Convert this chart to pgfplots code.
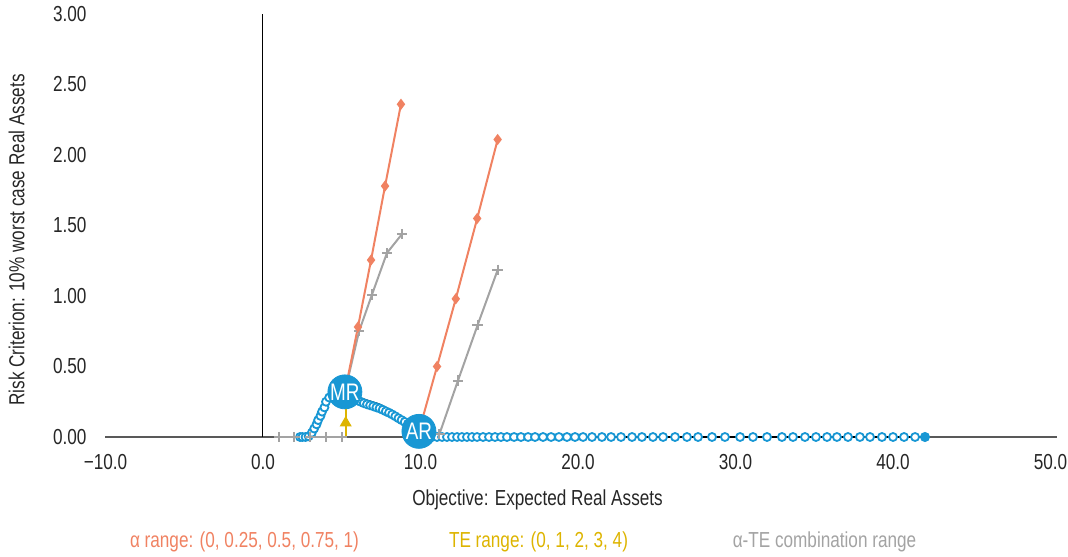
\documentclass[border=0pt]{standalone}
\usepackage{fontspec}
\setmainfont{Liberation Sans}[FakeStretch=0.79]
\usepackage{pgfplots}
\pgfplotsset{compat=1.18}

\definecolor{csalmon}{HTML}{F08262}
\definecolor{cgold}{HTML}{DDB400}
\definecolor{cgray}{HTML}{A3A3A3}
\definecolor{cblue}{HTML}{1897D4}
\definecolor{caxis}{HTML}{595959}

\newcommand{\lbl}{\fontsize{10.9}{12}\selectfont}

\begin{document}
\begin{tikzpicture}
\begin{axis}[
  name=ax, at={(0,0)}, anchor=south west,
  scale only axis, width=472.5bp, height=211.5bp,
  xmin=-10, xmax=50, ymin=0, ymax=3,
  axis line style={draw=none},
  major tick length=0pt,
  xtick={-10,0,10,20,30,40,50},
  xticklabels={−10.0,0.0,10.0,20.0,30.0,40.0,50.0},
  ytick={0,0.5,1,1.5,2,2.5,3},
  yticklabels={0.00,0.50,1.00,1.50,2.00,2.50,3.00},
  tick label style={font=\lbl, text=black!85},
  xticklabel style={yshift=-5bp},
  yticklabel style={xshift=-6bp},
  clip=false,
]
% axis lines: x along y=0, y at x=0
\draw[caxis, line width=0.8bp] (axis cs:-10,0) -- (axis cs:50.4,0);
\draw[black, line width=0.5bp] (axis cs:0,0) -- (axis cs:0,3);

% efficient frontier (smooth curve + flat tail)
\addplot[black, line width=1bp, smooth, tension=0.5] coordinates {
  (3.0,0) (3.2,0.06) (3.4,0.12) (3.7,0.2) (4.0,0.27) (4.4,0.31) (4.9,0.335)
  (5.3,0.34) (6.2,0.275) (7.4,0.23) (8.2,0.18) (8.9,0.135) (9.5,0.08)
  (10.0,0.03) (10.5,0)
};
\addplot[black, line width=1bp] coordinates {(10.5,0) (42.0,0)};

% frontier portfolios
\addplot[only marks, mark=*, mark size=2bp,
  mark options={draw=cblue, fill=white, line width=0.9bp}] coordinates {
  (2.35,0) (2.5,0) (2.7,0) (2.9,0.005) (3.1,0.03) (3.25,0.06) (3.4,0.09)
  (3.5,0.12) (3.65,0.15) (3.75,0.18) (3.9,0.21) (4.0,0.25) (4.2,0.28)
  (4.4,0.3) (4.6,0.31) (4.8,0.32)
  (5.6,0.29) (5.8,0.275) (6.0,0.26) (6.2,0.25) (6.4,0.24) (6.6,0.232)
  (6.8,0.225) (7.0,0.218) (7.2,0.21) (7.4,0.203) (7.6,0.193) (7.8,0.182)
  (8.0,0.172) (8.2,0.16) (8.4,0.147) (8.6,0.133) (8.8,0.12) (9.0,0.107)
  (9.2,0.093) (9.4,0.078) (9.6,0.062) (9.8,0.045) (10.0,0.03) (10.2,0.015)
  (10.4,0.004)
  (10.73,0) (11.05,0) (11.37,0) (11.68,0) (12.00,0) (12.32,0) (12.63,0)
  (12.95,0) (13.27,0) (13.59,0) (13.97,0) (14.35,0) (14.73,0) (15.11,0)
  (15.49,0) (15.94,0) (16.38,0) (16.83,0) (17.27,0) (17.78,0) (18.29,0)
  (18.79,0) (19.30,0) (19.81,0) (20.32,0) (20.89,0) (21.52,0) (22.10,0)
  (22.73,0) (23.43,0) (24.06,0) (24.76,0) (25.40,0) (26.16,0) (26.92,0)
  (27.62,0) (28.51,0) (29.33,0) (30.29,0) (31.11,0) (32.00,0) (32.95,0)
  (33.65,0) (34.41,0) (35.11,0) (35.81,0) (36.44,0) (37.14,0) (37.90,0)
  (38.54,0) (39.30,0) (40.00,0) (40.70,0) (41.40,0)
};
\addplot[only marks, mark=*, mark size=2.3bp, color=cblue] coordinates {(42.03,0)};

% alpha-TE combination range
\addplot[cgray, line width=1bp, mark=+, mark size=2.6bp] coordinates {
  (1,0) (2,0) (3,0) (4,0) (5,0)
};
\addplot[cgray, line width=1bp, mark=+, mark size=2.6bp, mark indices={2,3,4,5}] coordinates {
  (5.2,0.32) (6.1,0.75) (6.92,1.01) (7.87,1.305) (8.83,1.44)
};
\addplot[cgray, line width=1bp, mark=+, mark size=2.6bp] coordinates {
  (11.2,0.02) (12.38,0.4) (13.63,0.795) (14.9,1.185)
};

% alpha range
\addplot[csalmon, line width=1bp, mark=diamond*, mark size=2bp, mark indices={2,3,4,5}] coordinates {
  (5.2,0.32) (6.03,0.78) (6.86,1.255) (7.75,1.78) (8.76,2.36)
};
\addplot[csalmon, line width=1bp, mark=diamond*, mark size=2bp, mark indices={2,3,4,5}] coordinates {
  (9.9,0.04) (11.05,0.5) (12.24,0.98) (13.6,1.55) (14.9,2.11)
};

% TE range
\addplot[cgold, line width=1bp, mark=triangle*, mark size=2.5bp, mark indices={2}] coordinates {
  (5.25,0) (5.25,0.1) (5.25,0.2) (5.25,0.27) (5.25,0.32)
};

% MR and AR portfolios
\addplot[only marks, mark=*, mark size=8.5bp, color=cblue,
  point meta=explicit symbolic, nodes near coords,
  every node near coord/.append style={anchor=center, text=white,
    font=\fontsize{12}{13}\selectfont}]
  table[meta=lab] {
x y lab
5.2 0.32 MR
9.9 0.04 AR
};
\end{axis}

\node[font=\lbl, text=black!85] at (216bp,-31.5bp) {Objective: Expected Real Assets};
\node[font=\lbl, text=black!85, rotate=90] at (-44.5bp,98.5bp) {Risk Criterion: 10\% worst case Real Assets};
\node[font=\lbl, text=csalmon] at (69.5bp,-52.5bp) {α range: (0, 0.25, 0.5, 0.75, 1)};
\node[font=\lbl, text=cgold] at (216.5bp,-52.5bp) {TE range: (0, 1, 2, 3, 4)};
\node[font=\lbl, text=cgray] at (359.5bp,-52.5bp) {α-TE combination range};

\pgfresetboundingbox
\path[use as bounding box] (-52.75bp,-60bp) rectangle (481.25bp,218.5bp);
\end{tikzpicture}
\end{document}
